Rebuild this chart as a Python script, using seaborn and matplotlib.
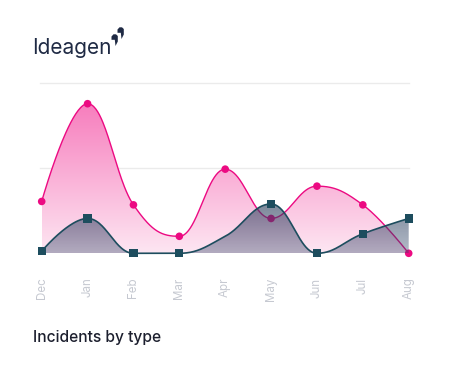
import numpy as np
import pandas as pd
import matplotlib
matplotlib.use("Agg")
import matplotlib.pyplot as plt
import seaborn as sns
from matplotlib.patches import Polygon
from matplotlib.colors import to_rgb

months = ["Dec", "Jan", "Feb", "Mar", "Apr", "May", "Jun", "Jul", "Aug"]
series_pink = [6.1, 17.6, 5.7, 2.0, 9.9, 4.1, 7.9, 5.7, 0.0]
series_dark = [0.25, 4.1, 0.0, 0.0, 2.0, 5.8, 0.0, 2.3, 4.1]
grid_values = [10, 20]
title = "Incidents by type"
brand = "Ideagen"

PINK = "#ec0a82"
DARK = "#1d4d5e"


def spline(xs, ys, n=50):
    """Highcharts-style spline (smoothing 1.5) evaluated as dense bezier points."""
    xs = list(map(float, xs)); ys = list(map(float, ys))
    N = len(xs)
    left = [(xs[i], ys[i]) for i in range(N)]
    right = [(xs[i], ys[i]) for i in range(N)]
    sm = 1.5; den = sm + 1
    for i in range(1, N - 1):
        x, y = xs[i], ys[i]
        lx, ly = xs[i - 1], ys[i - 1]
        nx, ny = xs[i + 1], ys[i + 1]
        lcx = (sm * x + lx) / den; lcy = (sm * y + ly) / den
        rcx = (sm * x + nx) / den; rcy = (sm * y + ny) / den
        if rcx != lcx:
            corr = ((rcy - lcy) * (rcx - x)) / (rcx - lcx) + y - rcy
            lcy += corr; rcy += corr
        if lcy > ly and lcy > y:
            lcy = max(ly, y); rcy = 2 * y - lcy
        elif lcy < ly and lcy < y:
            lcy = min(ly, y); rcy = 2 * y - lcy
        if rcy > ny and rcy > y:
            rcy = max(ny, y); lcy = 2 * y - rcy
        elif rcy < ny and rcy < y:
            rcy = min(ny, y); lcy = 2 * y - rcy
        left[i] = (lcx, lcy); right[i] = (rcx, rcy)
    X, Y = [], []
    for i in range(N - 1):
        t = np.linspace(0, 1, n, endpoint=(i == N - 2))
        p0 = np.array([xs[i], ys[i]]); p1 = np.array(right[i])
        p2 = np.array(left[i + 1]); p3 = np.array([xs[i + 1], ys[i + 1]])
        b = ((1 - t) ** 3)[:, None] * p0 + (3 * (1 - t) ** 2 * t)[:, None] * p1 \
            + (3 * (1 - t) * t ** 2)[:, None] * p2 + (t ** 3)[:, None] * p3
        X.append(b[:, 0]); Y.append(b[:, 1])
    return np.concatenate(X), np.concatenate(Y)


W, H = 461, 369
fig = plt.figure(figsize=(W / 100, H / 100), dpi=100)
fig.patch.set_facecolor("white")
ax_left, ax_right = 41.7, 408.7
ax_top, ax_bot = 83.3, 253.3
ax = fig.add_axes([ax_left / W, 1 - ax_bot / H, (ax_right - ax_left) / W, (ax_bot - ax_top) / H])
ax.set_facecolor("none")
for s in ax.spines.values():
    s.set_visible(False)

x = np.arange(len(months))
ax.set_xlim(0, len(months) - 1)
ax.set_ylim(0, 20)

for g in grid_values:
    ax.plot([-0.04, 8], [g, g], color="#ebebeb", lw=1.0, zorder=0, clip_on=False)


def gradient_fill(xs, ys, top_rgba, bot_rgba, ymax, z):
    Nn = 256
    t = np.linspace(0, 1, Nn)[:, None]
    top = np.array(top_rgba); bot = np.array(bot_rgba)
    img = bot[None, :] * (1 - t) + top[None, :] * t
    img = img[:, None, :]
    im = ax.imshow(img, extent=[0, 8, 0, ymax], origin="lower", aspect="auto", zorder=z, interpolation="bilinear")
    verts = np.column_stack([np.r_[xs[0], xs, xs[-1]], np.r_[0, ys, 0]])
    poly = Polygon(verts, closed=True, facecolor="none", edgecolor="none", transform=ax.transData)
    ax.add_patch(poly)
    im.set_clip_path(poly)


px, py = spline(x, series_pink)
dx, dy = spline(x, series_dark)

gradient_fill(px, py, (*to_rgb("#f77dbd"), 1.0), (*to_rgb("#fde6f2"), 1.0), max(series_pink), 1)
df_p = pd.DataFrame({"x": px, "y": py})
sns.lineplot(data=df_p, x="x", y="y", ax=ax, color=PINK, lw=1.0, zorder=2, sort=False)
sns.scatterplot(x=x, y=series_pink, ax=ax, color=PINK, s=30, marker="o", edgecolor="none", zorder=3, clip_on=False)

gradient_fill(dx, dy, (*to_rgb("#2a3d5a"), 0.62), (*to_rgb("#2e4266"), 0.36), max(series_dark), 4)
df_d = pd.DataFrame({"x": dx, "y": dy})
sns.lineplot(data=df_d, x="x", y="y", ax=ax, color=DARK, lw=1.2, zorder=5, sort=False)
mask = [i for i in range(len(months)) if months[i] != "Apr"]
sns.scatterplot(x=x[mask], y=np.array(series_dark)[mask], ax=ax, color=DARK, s=36, marker="s",
                edgecolor="none", zorder=6, clip_on=False)

for l in ax.lines:
    l.set_clip_on(False)

ax.set_xticks(x)
ax.set_xticklabels(months, rotation=90, fontsize=8.3, color="#c6c9d1", family="Inter", va="top")
ax.tick_params(axis="x", length=0, pad=17.5)
ax.set_yticks([])
ax.set_xlabel(""); ax.set_ylabel("")
if ax.get_legend():
    ax.get_legend().remove()

fig.text(33 / W, 1 - 342 / H, title, fontsize=11.2, family="Inter", weight="medium",
         color="#1c1f2e", va="baseline", ha="left")
fig.text(32 / W, 1 - 54.5 / H, brand, fontsize=15, family="Inter", color="#1f2a44", va="baseline", ha="left")


def fig_poly(pts):
    pts = [(a / W, 1 - b / H) for a, b in pts]
    fig.patches.append(Polygon(pts, closed=True, transform=fig.transFigure, facecolor="#1f2a44", edgecolor="none"))


fig_poly([(117.5, 29.5), (119.5, 27.3), (122, 27.3), (123.8, 29), (123.8, 34.5), (121.5, 39),
          (120.8, 32.8), (117.5, 32.8)])
fig_poly([(111.5, 36.5), (113.5, 34.3), (116, 34.3), (117.8, 36), (117.8, 41.5), (115.5, 46),
          (114.8, 39.8), (111.5, 39.8)])

fig.savefig("out.png", dpi=100, facecolor="white")
